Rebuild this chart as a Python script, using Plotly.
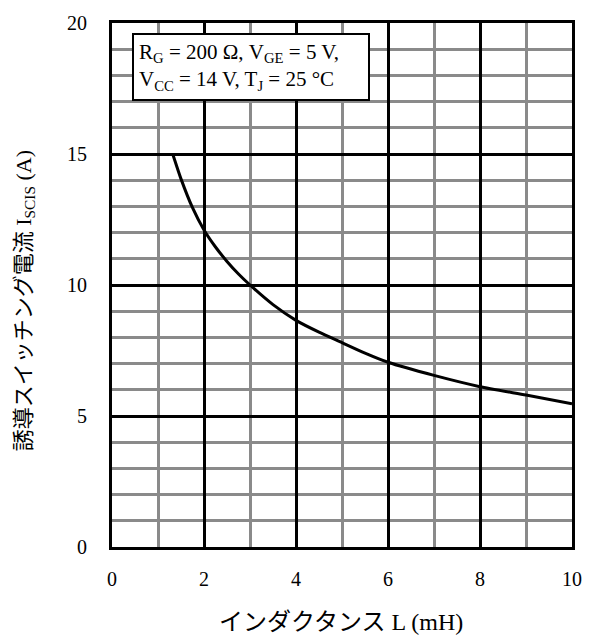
import plotly.graph_objects as go

# Data
inductance_mH = [1.32, 1.5, 1.75, 2.0, 2.25, 2.5, 2.75, 3.0, 3.5, 4.0, 4.5, 5.0, 5.5, 6.0, 7.0, 8.0, 9.0, 10.0]
current_A = [15.0, 14.05, 12.95, 12.1, 11.45, 10.9, 10.42, 10.0, 9.25, 8.65, 8.2, 7.8, 7.4, 7.05, 6.55, 6.12, 5.8, 5.47]
x_ticks = [0, 2, 4, 6, 8, 10]
y_ticks = [0, 5, 10, 15, 20]

SERIF = "Liberation Serif"
JP = "Liberation Serif, Noto Sans CJK JP, serif"

fig = go.Figure()
fig.add_trace(go.Scatter(
    x=inductance_mH, y=current_A, mode="lines",
    line=dict(color="black", width=3, shape="spline", smoothing=0.6),
    showlegend=False, hoverinfo="skip",
))

axis_common = dict(
    showline=True, linecolor="black", linewidth=3, mirror=True,
    showgrid=True, gridcolor="black", gridwidth=2.5,
    zeroline=False, ticks="",
    tickfont=dict(family=SERIF, size=20, color="black"),
)

fig.update_xaxes(
    range=[0, 10], tickvals=x_ticks, ticklabelstandoff=12,
    minor=dict(dtick=1, showgrid=True, gridcolor="#8a8a8a", gridwidth=2.5, ticks=""),
    **axis_common,
)
fig.update_yaxes(
    range=[0, 20], tickvals=y_ticks, ticklabelstandoff=18,
    minor=dict(dtick=1, showgrid=True, gridcolor="#8a8a8a", gridwidth=2.5, ticks=""),
    **axis_common,
)

fig.add_annotation(
    xref="paper", yref="paper", x=0.043, y=0.98, xanchor="left", yanchor="top",
    text="R<sub>G</sub> = 200 Ω, V<sub>GE</sub> = 5 V,<br>V<sub>CC</sub> = 14 V, T<sub>J</sub> = 25 °C",
    align="left", showarrow=False, width=224,
    font=dict(family=SERIF, size=21, color="black"),
    bgcolor="white", bordercolor="black", borderwidth=2, borderpad=5,
)

# Axis titles
fig.add_annotation(
    xref="paper", yref="paper", x=0.497, y=-0.143, xanchor="center", yanchor="middle",
    text="インダクタンス L (mH)", showarrow=False,
    font=dict(family=JP, size=24, color="black"),
)
fig.add_annotation(
    xref="paper", yref="paper", x=-0.19, y=0.47, xanchor="center", yanchor="middle",
    text="誘導スイッチング電流 I<sub>SCIS</sub> (A)", showarrow=False, textangle=-90,
    font=dict(family=JP, size=22, color="black"),
)

fig.update_layout(
    width=595, height=643,
    margin=dict(l=112, r=23, t=17, b=96),
    paper_bgcolor="white", plot_bgcolor="white",
)

fig.write_html("out.html")
